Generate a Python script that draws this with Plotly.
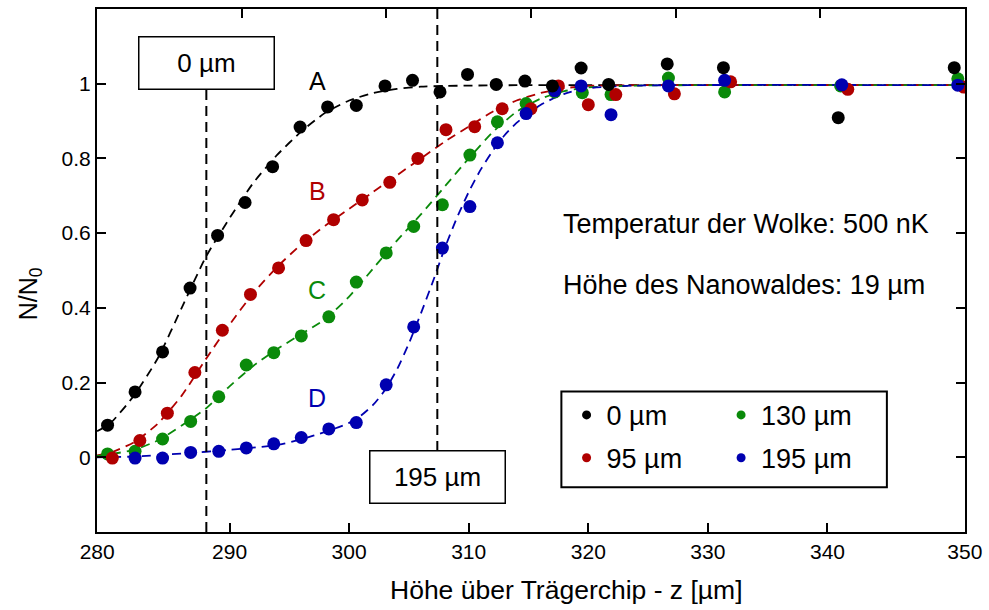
import plotly.graph_objects as go

# ---------------- data ----------------
# measured points, series A..D (Abstand 0, 95, 130, 195 µm)
x_A = [279.8, 282.1, 284.4, 286.7, 289.0, 291.3, 293.6, 295.9, 298.2, 300.6, 303.0, 305.3,
       307.6, 309.9, 312.3, 314.7, 317.0, 319.4, 321.7, 326.6, 331.3, 340.9, 350.6]
y_A = [0.086, 0.175, 0.282, 0.453, 0.594, 0.682, 0.778, 0.884, 0.938, 0.942, 0.994, 1.009,
       0.978, 1.025, 0.998, 1.007, 0.994, 1.042, 0.998, 1.053, 1.043, 0.909, 1.043]

x_B = [280.2, 282.5, 284.8, 287.1, 289.4, 291.75, 294.1, 296.4, 298.7, 301.1, 303.4, 305.75,
       308.1, 310.5, 312.8, 315.2, 317.5, 320.0, 322.3, 327.2, 331.9, 341.7, 351.4]
y_B = [-0.002, 0.045, 0.118, 0.227, 0.340, 0.436, 0.507, 0.580, 0.636, 0.689, 0.736, 0.800,
       0.877, 0.885, 0.933, 0.933, 0.994, 0.944, 0.971, 0.973, 1.005, 0.985, 0.991]

x_C = [279.8, 282.1, 284.4, 286.75, 289.1, 291.4, 293.7, 296.0, 298.3, 300.6, 303.1, 305.4,
       307.8, 310.1, 312.4, 314.8, 317.2, 319.5, 321.9, 326.7, 331.4, 341.1, 350.9]
y_C = [0.009, 0.016, 0.049, 0.096, 0.162, 0.247, 0.280, 0.325, 0.376, 0.469, 0.547, 0.618,
       0.676, 0.809, 0.898, 0.947, 0.978, 0.976, 0.971, 1.015, 0.978, 0.994, 1.013]

x_D = [282.1, 284.4, 286.75, 289.1, 291.4, 293.7, 296.0, 298.3, 300.6, 303.1, 305.4, 307.8,
       310.1, 312.4, 314.8, 317.2, 319.4, 321.9, 326.7, 331.4, 341.2, 350.9]
y_D = [-0.002, -0.002, 0.013, 0.016, 0.025, 0.036, 0.053, 0.076, 0.093, 0.194, 0.349, 0.560,
       0.671, 0.842, 0.920, 0.981, 0.994, 0.917, 0.994, 1.009, 0.997, 0.996]

# fitted curves (dashed)
fx_A = [278.92, 280, 282, 284, 286, 288, 290, 292, 294, 296, 298, 300, 302, 304, 306, 308, 310, 314, 320, 351.5]
fy_A = [0.07, 0.09, 0.165, 0.265, 0.40, 0.535, 0.640, 0.735, 0.810, 0.872, 0.922, 0.955, 0.975, 0.986,
        0.992, 0.994, 0.995, 0.996, 0.996, 0.996]
fx_B = [278.92, 280, 282, 284, 286, 288, 290, 292, 294, 296, 298, 300, 302, 304, 306, 308, 310, 312,
        314, 316, 318, 320, 324, 351.5]
fy_B = [0.005, 0.012, 0.04, 0.09, 0.165, 0.262, 0.355, 0.44, 0.51, 0.57, 0.62, 0.665, 0.71, 0.755,
        0.80, 0.845, 0.885, 0.925, 0.955, 0.975, 0.988, 0.994, 0.996, 0.996]
fx_C = [278.92, 280, 282, 284, 286, 288, 290, 292, 294, 296, 298, 300, 302, 304, 306, 308, 310, 312,
        314, 316, 318, 320, 324, 351.5]
fy_C = [0.004, 0.008, 0.02, 0.045, 0.085, 0.13, 0.19, 0.245, 0.29, 0.33, 0.37, 0.43, 0.505, 0.58,
        0.65, 0.725, 0.80, 0.87, 0.925, 0.96, 0.98, 0.99, 0.995, 0.996]
fx_D = [278.92, 282, 286, 290, 294, 296, 298, 300, 301, 302, 303, 304, 305, 306, 307, 308, 309, 310,
        311, 312, 313, 314, 316, 318, 320, 324, 351.5]
fy_D = [0.0, 0.002, 0.01, 0.02, 0.033, 0.048, 0.068, 0.092, 0.112, 0.14, 0.18, 0.235, 0.305, 0.385,
        0.47, 0.56, 0.64, 0.71, 0.77, 0.82, 0.862, 0.895, 0.943, 0.973, 0.988, 0.995, 0.996]

series_names = ["0 µm", "95 µm", "130 µm", "195 µm"]
curve_letters = ["A", "B", "C", "D"]
letter_x = [297.33, 297.33, 297.33, 297.33]
letter_y = [1.007, 0.713, 0.448, 0.159]

x_ticks = [278.93, 290, 300, 310, 320, 330, 340, 351.49]
x_ticktext = ["280", "290", "300", "310", "320", "330", "340", "350"]
y_ticks = [0, 0.2, 0.4, 0.6, 0.8, 1.0]
y_ticktext = ["0", "0.2", "0.4", "0.6", "0.8", "1"]

marker_line_x = [288.06, 307.375]   # "0 µm" and "195 µm" positions

# ---------------- style ----------------
colors = ["#000000", "#b00000", "#0a8a0a", "#0000b0"]
FONT = "Liberation Sans, Arial, Helvetica, sans-serif"

fig = go.Figure()

fits = [(fx_A, fy_A), (fx_B, fy_B), (fx_C, fy_C), (fx_D, fy_D)]
for (fx, fy), c in zip(fits, colors):
    fig.add_trace(go.Scatter(x=fx, y=fy, mode="lines",
                             line=dict(color=c, width=1.8, dash="9px,6px", shape="spline", smoothing=0.6),
                             showlegend=False, hoverinfo="skip"))

data = [(x_A, y_A), (x_B, y_B), (x_C, y_C), (x_D, y_D)]
draw_order = [2, 1, 3, 0]
for i in draw_order:
    dx, dy = data[i]
    fig.add_trace(go.Scatter(x=dx, y=dy, mode="markers", name=series_names[i],
                             marker=dict(size=13, color=colors[i], line=dict(width=0)),
                             showlegend=False))

# legend entries (small dots), one legend per entry
legend_names = ["legend", "legend2", "legend3", "legend4"]
for i in range(4):
    fig.add_trace(go.Scatter(x=[None], y=[None], mode="markers", name=series_names[i],
                             marker=dict(size=9, color=colors[i]), legend=legend_names[i]))

# empty trace for top axis ticks
fig.add_trace(go.Scatter(x=[], y=[], xaxis="x2", showlegend=False, hoverinfo="skip"))

# legend positions (paper coords): 0 µm, 95 µm, 130 µm, 195 µm
leg_pos = [(0.541, 0.223), (0.541, 0.141), (0.719, 0.223), (0.719, 0.141)]
leg_layout = {}
for name, (lx, ly) in zip(legend_names, leg_pos):
    leg_layout[name] = dict(x=lx, y=ly, xanchor="left", yanchor="middle", bgcolor="rgba(0,0,0,0)",
                            borderwidth=0, font=dict(family=FONT, size=27, color="black"),
                            itemwidth=30, itemsizing="trace")

# shapes: dashed vertical marker lines, legend frame
shapes = [
    dict(type="line", xref="x", yref="y", x0=marker_line_x[0], x1=marker_line_x[0], y0=0.983, y1=-0.2,
         line=dict(color="black", width=2, dash="10px,6px")),
    dict(type="line", xref="x", yref="y", x0=marker_line_x[1], x1=marker_line_x[1], y0=1.2, y1=0.018,
         line=dict(color="black", width=2, dash="10px,6px")),
    dict(type="rect", xref="paper", yref="paper", x0=0.535, x1=0.910, y0=0.0857, y1=0.2686,
         line=dict(color="black", width=2), fillcolor="rgba(0,0,0,0)"),
]

annotations = []
# boxed labels
annotations.append(dict(x=marker_line_x[0], y=1.056, xref="x", yref="y", text="0 µm", showarrow=False,
                        font=dict(family=FONT, size=26, color="black"), bgcolor="white",
                        bordercolor="black", borderwidth=1.5, borderpad=1, width=132, height=49))
annotations.append(dict(x=marker_line_x[1], y=-0.054, xref="x", yref="y", text="195 µm", showarrow=False,
                        font=dict(family=FONT, size=26, color="black"), bgcolor="white",
                        bordercolor="black", borderwidth=1.5, borderpad=1, width=132, height=49))
# curve letters
for t, lx, ly, c in zip(curve_letters, letter_x, letter_y, colors):
    annotations.append(dict(x=lx, y=ly, xref="x", yref="y", text=t, showarrow=False,
                            font=dict(family=FONT, size=25, color=c)))
# info texts
annotations.append(dict(x=317.75, y=0.624, xref="x", yref="y", text="Temperatur der Wolke: 500 nK",
                        showarrow=False, xanchor="left", font=dict(family=FONT, size=27, color="black")))
annotations.append(dict(x=317.75, y=0.462, xref="x", yref="y", text="Höhe des Nanowaldes: 19 µm",
                        showarrow=False, xanchor="left", font=dict(family=FONT, size=27, color="black")))
# axis titles
annotations.append(dict(x=0.5408, y=-0.1105, xref="paper", yref="paper", text="Höhe über Trägerchip - z [µm]",
                        showarrow=False, xanchor="center", yanchor="middle",
                        font=dict(family=FONT, size=26.5, color="black")))
annotations.append(dict(x=-0.0769, y=0.455, xref="paper", yref="paper", text="N/N<sub>0</sub>",
                        showarrow=False, textangle=-90, xanchor="center", yanchor="middle",
                        font=dict(family=FONT, size=25, color="black")))

fig.update_layout(
    width=989, height=610,
    margin=dict(l=97, r=21, t=7, b=78),
    plot_bgcolor="white", paper_bgcolor="white",
    font=dict(family=FONT, size=21, color="black"),
    xaxis=dict(range=[278.917, 351.5], tickvals=x_ticks, ticktext=x_ticktext, ticks="inside",
               ticklen=9, tickwidth=1.5, tickcolor="black", showline=True, linewidth=2, linecolor="black",
               mirror=True, showgrid=False, zeroline=False, tickfont=dict(family=FONT, size=21)),
    xaxis2=dict(overlaying="x", side="top", anchor="y", range=[0, 6], tickvals=[1, 2, 3, 4, 5],
                ticks="inside", ticklen=9, tickwidth=1.5, tickcolor="black", showticklabels=False,
                showline=False, showgrid=False, zeroline=False),
    yaxis=dict(range=[-0.2, 1.2], tickvals=y_ticks, ticktext=y_ticktext, ticks="inside",
               ticklen=9, tickwidth=1.5, tickcolor="black", showline=True, linewidth=2, linecolor="black",
               mirror="ticks", showgrid=False, zeroline=False, tickfont=dict(family=FONT, size=21)),
    shapes=shapes,
    annotations=annotations,
    **leg_layout,
)

fig.write_html("out.html")
